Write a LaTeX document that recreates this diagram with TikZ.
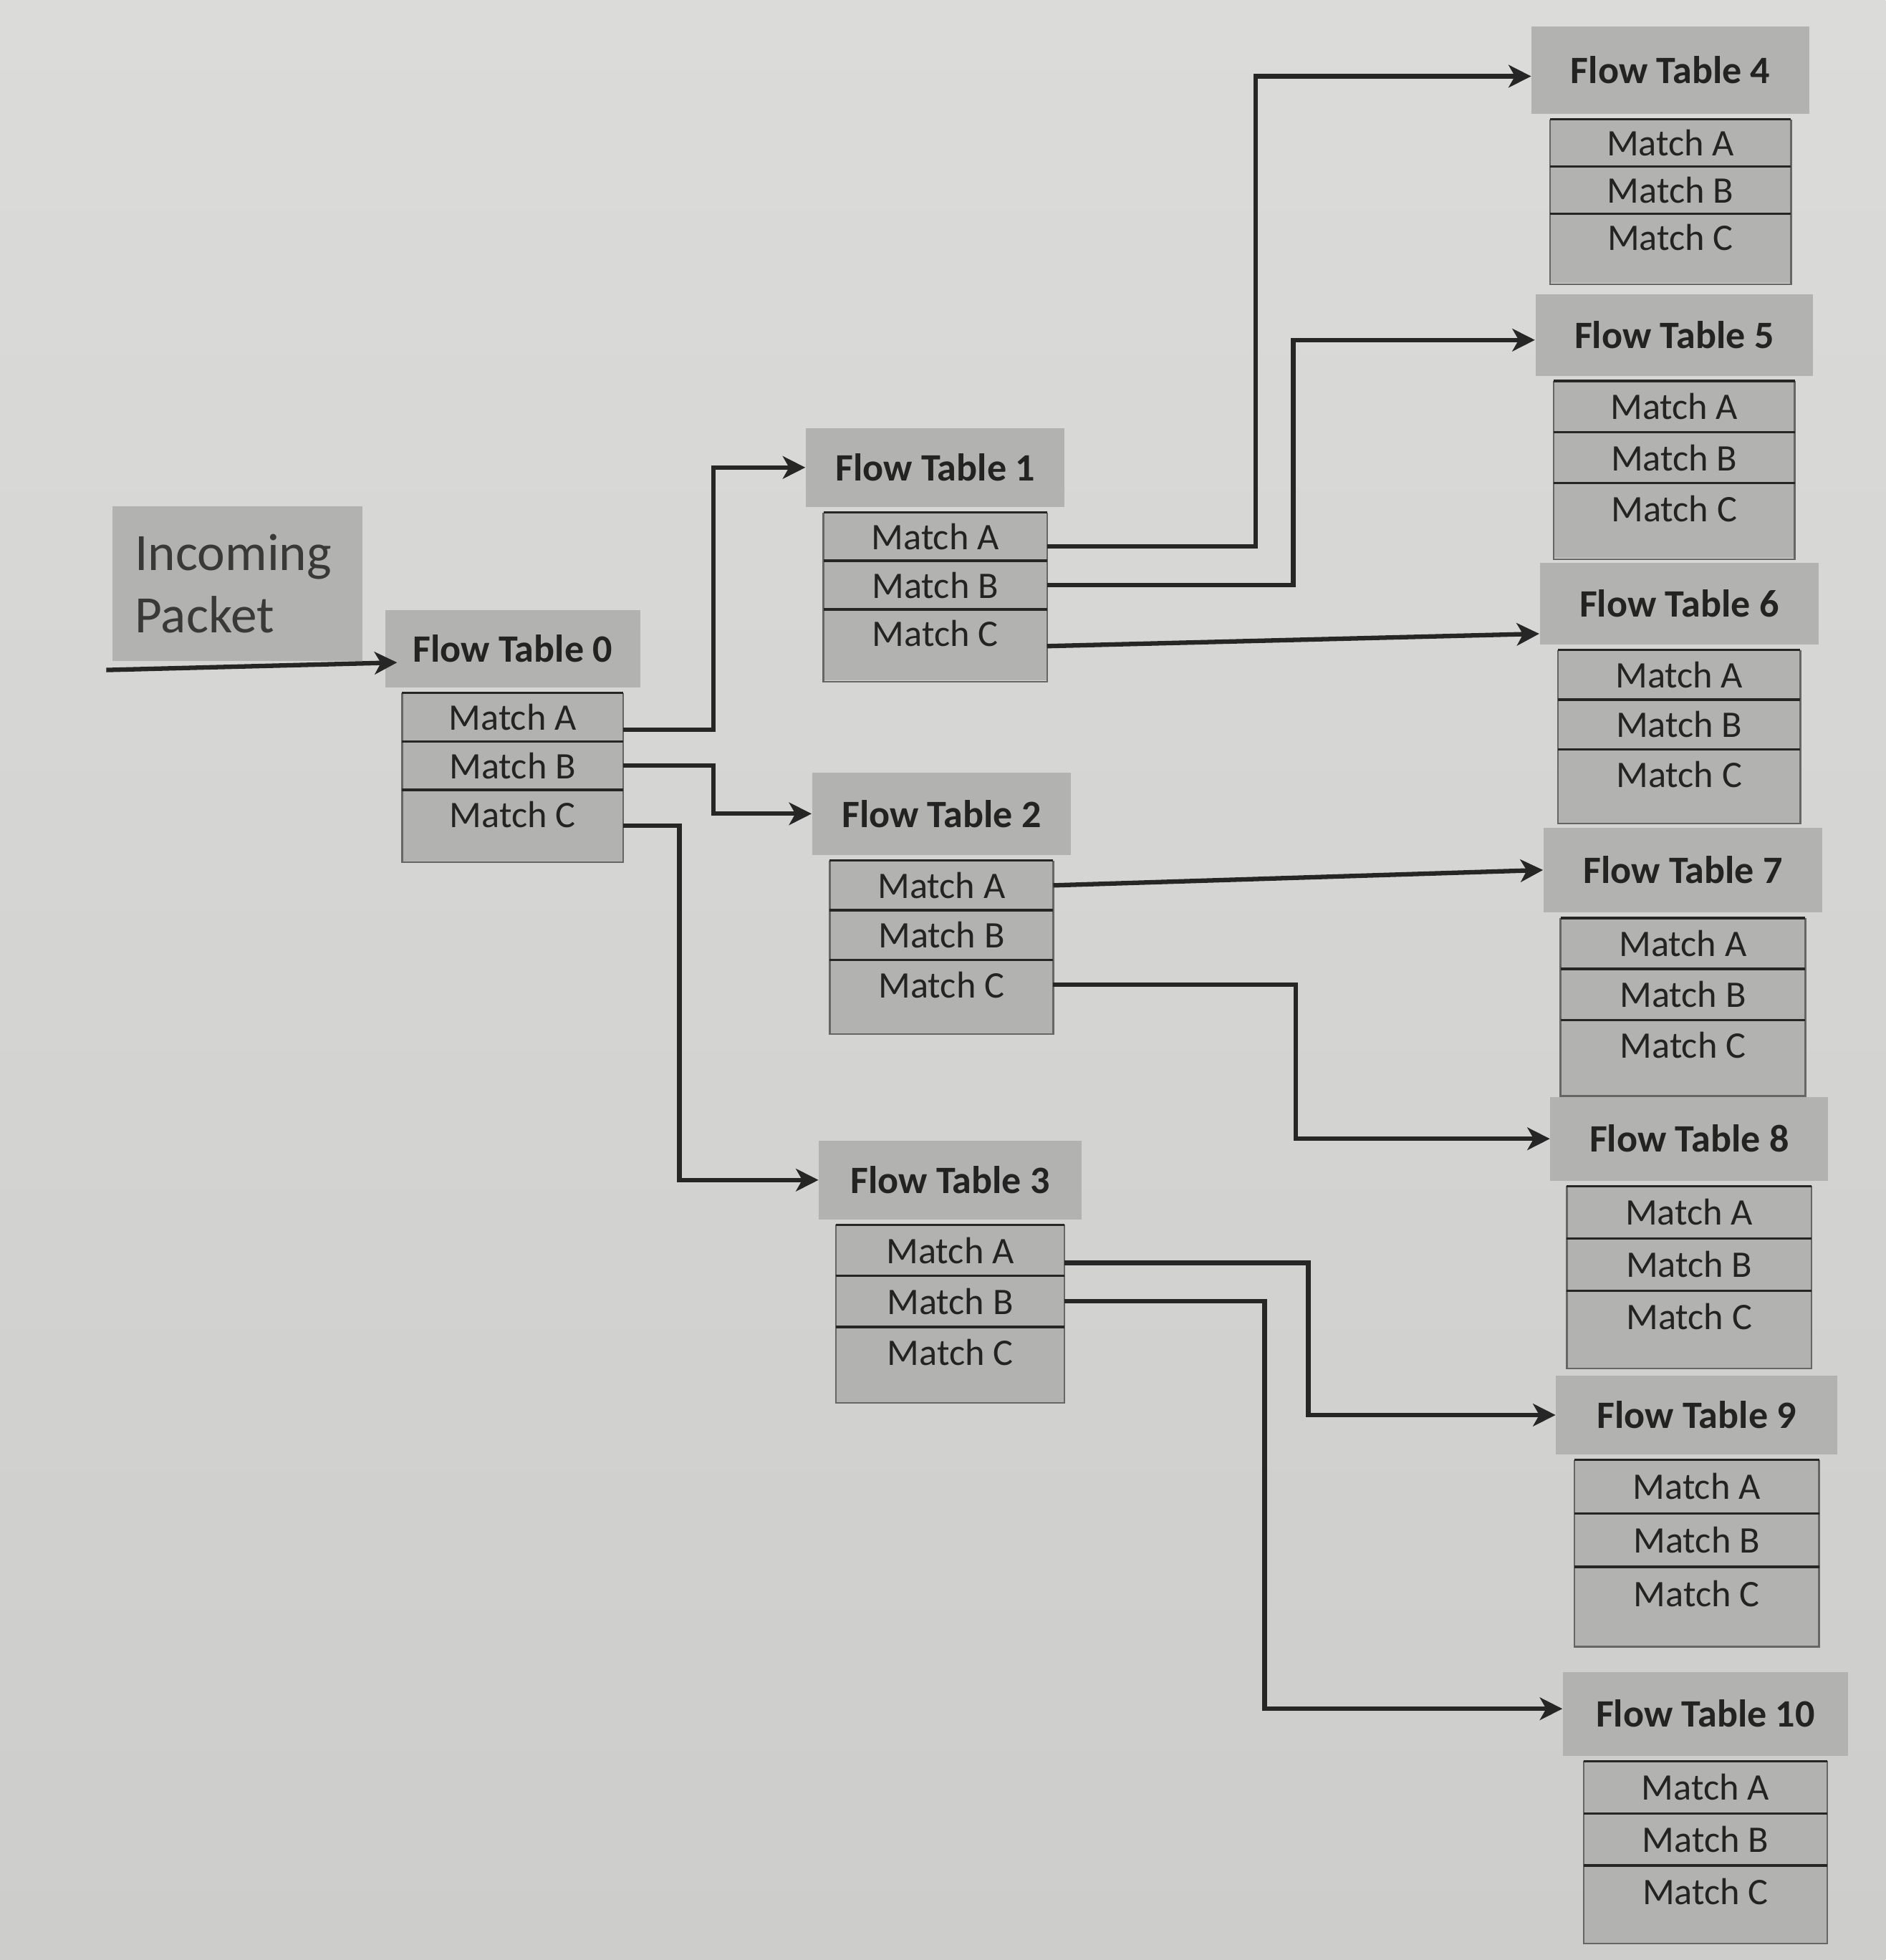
\documentclass[tikz,border=0pt]{standalone}
\usepackage{fontspec}
\setmainfont{Carlito}
\usetikzlibrary{arrows.meta,calc}
\definecolor{bgtop}{RGB}{219,219,217}
\definecolor{bgbot}{RGB}{205,205,203}
\definecolor{boxfill}{RGB}{178,178,176}
\definecolor{inkc}{RGB}{35,35,35}
\tikzset{
  hdr/.style={fill=boxfill, inner sep=0pt, text=inkc, font=\fontsize{15.5}{18}\selectfont\bfseries},
  mrow/.style={fill=boxfill, inner sep=0pt, text=inkc, font=\fontsize{15}{18}\selectfont},
  sepline/.style={draw=black!85, line width=1pt},
  edgeline/.style={draw=black!60, line width=0.7pt},
  conn/.style={draw=black!85, line width=1.8pt, -{Stealth[length=9pt,width=9pt,inset=2.5pt]}},
  incbox/.style={fill=boxfill, inner sep=0pt, align=left, text=inkc!90, font=\fontsize{21}{25}\selectfont}
}
% id, label, cx, cy, header width, header height, row width, row height
\newcommand\flowtab[8]{%
  \node[hdr, minimum width=0.5pt*#5, minimum height=0.5pt*#6] (h#1) at (#3,#4) {#2};
  \node[mrow, minimum width=0.5pt*#7, minimum height=0.5pt*#8, anchor=north] (a#1) at ($(h#1.south)+(0,4)$) {Match A};
  \node[mrow, minimum width=0.5pt*#7, minimum height=0.5pt*#8, anchor=north] (b#1) at (a#1.south) {Match B};
  \fill[boxfill] ($(b#1.south west)+(0,{0.5*#8})$) rectangle ($(b#1.south east)+(0,{1.5*#8})$);
  \node[mrow, minimum width=0.5pt*#7, minimum height=0.5pt*#8, anchor=north] (c#1) at (b#1.south) {Match C};
  \draw[edgeline] (a#1.north west) -- ($(c#1.south west)+(0,{0.5*#8})$) -- ($(c#1.south east)+(0,{0.5*#8})$) -- (a#1.north east);
  \draw[sepline] (a#1.north west) -- (a#1.north east) (b#1.north west) -- (b#1.north east) (c#1.north west) -- (c#1.north east);
}
\begin{document}
\begin{tikzpicture}[x=0.5pt,y=-0.5pt]
\shade[top color=bgtop, bottom color=bgbot] (0,0) rectangle (1508,1568);
\useasboundingbox (0,0) rectangle (1508,1568);

\node[incbox, minimum width=100pt, minimum height=62pt, text width=82pt] (inc) at (190,467) {Incoming\\Packet};

\flowtab{0}{Flow Table 0}{410}{519}{204}{62}{176}{38}
\flowtab{1}{Flow Table 1}{748}{374}{207}{63}{178}{38}
\flowtab{2}{Flow Table 2}{753}{651}{207}{66}{178}{39}
\flowtab{3}{Flow Table 3}{760}{944}{210}{63}{182}{40}
\flowtab{4}{Flow Table 4}{1336}{56}{222}{70}{192}{37}
\flowtab{5}{Flow Table 5}{1339}{268}{222}{65}{192}{40}
\flowtab{6}{Flow Table 6}{1343}{483}{223}{65}{193}{39}
\flowtab{7}{Flow Table 7}{1346}{696}{223}{68}{195}{40}
\flowtab{8}{Flow Table 8}{1351}{911}{222}{67}{195}{41}
\flowtab{9}{Flow Table 9}{1357}{1132}{225}{63}{195}{42}
\flowtab{10}{Flow Table 10}{1364}{1371}{228}{67}{194}{41}

\coordinate (pin) at (85,536);
\draw[conn] (pin) -- ($(h0.west)+(10,11)$);

\draw[conn] ($(a0.east)+(0,10)$) -- ++(72,0) |- (h1.west);
\draw[conn] (b0.east) -- ++(72,0) |- (h2.west);
\draw[conn] ($(c0.east)+(0,9)$) -- ++(45,0) |- (h3.west);

\draw[conn] ($(a1.east)+(0,8)$) -- ++(167,0) |- ($(h4.west)+(0,5)$);
\draw[conn] (b1.east) -- ++(197,0) |- ($(h5.west)+(0,4)$);
\draw[conn] ($(c1.east)+(0,10)$) -- ($(h6.west)+(0,24)$);

\draw[conn] (a2.east) -- (h7.west);
\draw[conn] (c2.east) -- ++(194,0) |- (h8.west);

\draw[conn] ($(a3.east)+(0,10)$) -- ++(195,0) |- (h9.west);
\draw[conn] (b3.east) -- ++(160,0) |- ($(h10.west)+(0,-4)$);
\end{tikzpicture}
\end{document}
